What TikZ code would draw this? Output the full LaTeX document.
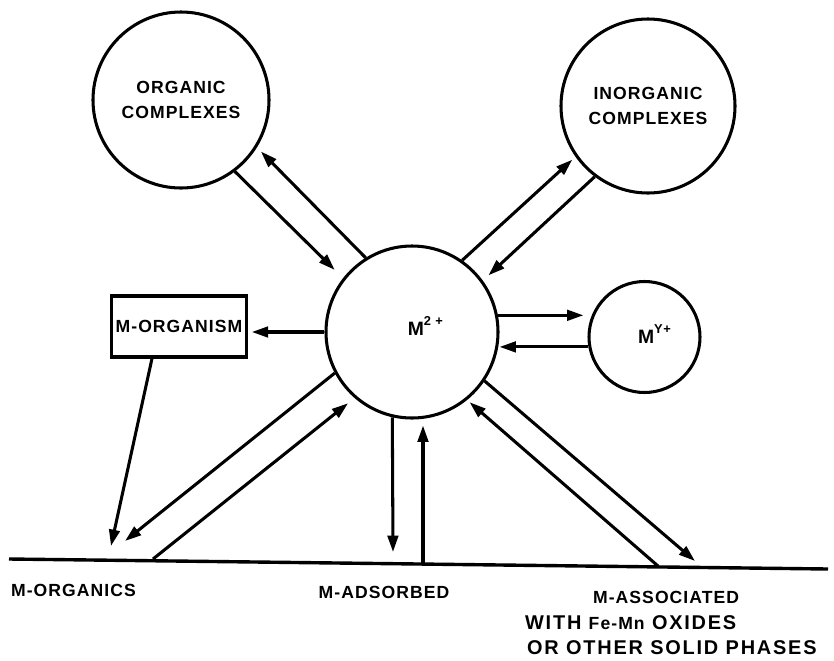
\documentclass[tikz,border=0pt]{standalone}
\usepackage{fontspec}
\newfontfamily\labfont{Liberation Sans}[LetterSpace=6]
\newfontfamily\widefont{Liberation Sans}[LetterSpace=9]
\newcommand{\ionsup}[1]{\raisebox{0.5em}{\fontsize{11}{11}\selectfont #1}}
\usetikzlibrary{arrows.meta}

\begin{document}
\begin{tikzpicture}[x=0.03cm, y=-0.03cm,
        every node/.style={font={\labfont\bfseries\fontsize{15}{21}\selectfont}},
        circ/.style={draw, circle, line width=2.6pt, inner sep=0pt, align=center},
        ion/.style={font={\labfont\bfseries\fontsize{16.5}{20}\selectfont}},
        big/.style={font={\widefont\bfseries\fontsize{17}{22}\selectfont}},
        flow/.style={line width=2.6pt, -{Triangle[length=14pt, width=9pt]}}]
        \useasboundingbox (0,0) rectangle (834,660);
        \node [circ, minimum size=5.28cm] (orgc) at (181,100) {ORGANIC\\COMPLEXES};
        \node [circ, minimum size=5.22cm] (inorgc) at (648,106) {INORGANIC\\COMPLEXES};
        \node [circ, minimum size=5.16cm, label={[ion, xshift=0.4cm, yshift=0.18cm]center:M\ionsup{2 +}}] (mfree) at (412,332) {};
        \node [circ, minimum size=3.33cm, label={[ion, xshift=0.3cm, yshift=0.09cm]center:M\ionsup{Y+}}] (myplus) at (644.5,337) {};
        \node [draw, line width=2.6pt, minimum width=3.54cm, minimum height=1.83cm] (orgm) at (179,326.5) {M-ORGANISM};
        \coordinate (gw) at (9,559);
        \coordinate (ge) at (828,569);
        \draw [line width=2.9pt] (gw) -- (ge);
        \coordinate (orgtip) at (111,546);
        \coordinate (orgstip) at (125,541);
        \coordinate (orgsbase) at (153,559);
        \coordinate (adstip) at (393,552);
        \coordinate (adsbase) at (423,564);
        \coordinate (asstip) at (695,561);
        \coordinate (assbase) at (658,566);
        \draw [flow, shorten >=0.35cm] (orgc.-53) -- (mfree.142);
        \draw [flow, shorten >=0.17cm] (mfree.122) -- (orgc.-32);
        \draw [flow, shorten >=0.13cm] (mfree.55) -- (inorgc.215);
        \draw [flow, shorten >=0.23cm] (inorgc.233) -- (mfree.36);
        \draw [flow, shorten >=0.12cm] (mfree.west) -- (mfree.west -| orgm.east);
        \draw [flow, shorten >=0.12cm] (mfree.11) -- (mfree.11 -| myplus.west);
        \draw [flow] (myplus.190) -- (myplus.190 -| mfree.east);
        \draw [flow] ([xshift=-0.81cm]orgm.south) -- (orgtip);
        \draw [flow] (mfree.208) -- (orgstip);
        \draw [flow, shorten >=0.25cm] (orgsbase) -- (mfree.229);
        \draw [flow] (mfree.257) -- (adstip);
        \draw [flow, shorten >=0.18cm] (adsbase) -- (adsbase |- mfree.south);
        \draw [flow] (mfree.-34) -- (asstip);
        \draw [flow, shorten >=0.1cm] (assbase) -- (mfree.-51);
        \node [anchor=west] (lorgs) at (7,590) {M-ORGANICS};
        \node (lads) at (384,592) {M-ADSORBED};
        \node [anchor=west] (lass) at (589,597) {M-ASSOCIATED};
        \node [big, anchor=west] (lfemn) at (521,623) {WITH {\labfont\fontsize{15}{16}\selectfont Fe-Mn} OXIDES};
        \node [big, anchor=west] (lsolid) at (523,648) {OR OTHER SOLID PHASES};
\end{tikzpicture}
\end{document}
